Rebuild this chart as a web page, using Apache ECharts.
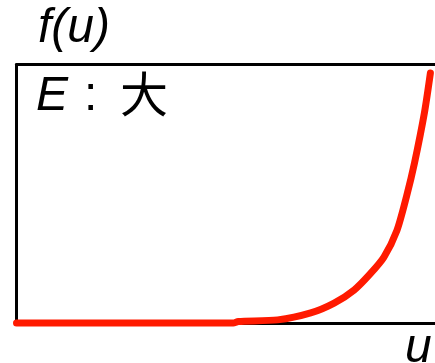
<!DOCTYPE html>
<html>
<head>
<meta charset="utf-8">
<script src="https://cdn.jsdelivr.net/npm/echarts@6/dist/echarts.min.js"></script>
<style>
  html, body { margin: 0; padding: 0; background: #fff; }
  #chart { width: 435px; height: 363px; }
</style>
</head>
<body>
<div id="chart"></div>
<script>
// Energy distribution curve f(u) for large E
const uValues = [0, 51.8, 53, 62.4, 70.3, 75.9, 80.7, 84.5, 87.8, 90.9, 93.2, 95.1, 97.5, 98.9];
const fValues = [0, 0, 0.6, 1.2, 3.9, 7.7, 12.8, 19.0, 25.5, 35.8, 49.0, 61.9, 81.6, 96.7];

const yLabel = 'f(u)';
const xLabel = 'u';
const eLabel = 'E';
const sepLabel = ':';
const sizeLabel = '大';

const points = uValues.map((u, i) => [u, fValues[i]]);

const chart = echarts.init(document.getElementById('chart'));
const latin = '"Liberation Sans", Arial, sans-serif';
const cjk = '"Noto Sans CJK SC", sans-serif';
const frame = { show: true, lineStyle: { color: '#000', width: 3 } };
const hidden = {
  axisTick: { show: false }, axisLabel: { show: false }, splitLine: { show: false }
};

chart.setOption({
  animation: false,
  grid: { left: 16.5, top: 64.5, width: 422, height: 258.5 },
  xAxis: [
    Object.assign({ type: 'value', min: 0, max: 100, position: 'bottom', axisLine: frame }, hidden),
    Object.assign({ type: 'value', min: 0, max: 100, position: 'top', axisLine: frame }, hidden)
  ],
  yAxis: Object.assign({ type: 'value', min: 0, max: 100, position: 'left', axisLine: frame }, hidden),
  series: [{
    type: 'line',
    data: points,
    smooth: 0.25,
    symbol: 'none',
    clip: false,
    z: 5,
    lineStyle: { color: '#ff1a00', width: 7, cap: 'round', join: 'round' }
  }],
  graphic: [
    { type: 'text', left: 38, top: 5,
      style: { text: yLabel, font: 'italic 48px ' + latin, fill: '#000' } },
    { type: 'text', left: 36, top: 73,
      style: { text: eLabel, font: 'italic 48px ' + latin, fill: '#000' } },
    { type: 'text', left: 84, top: 73,
      style: { text: sepLabel, font: '48px ' + latin, fill: '#000' } },
    { type: 'text', left: 120, top: 70,
      style: { text: sizeLabel, font: '48px ' + cjk, fill: '#000' } },
    { type: 'text', left: 405, top: 325,
      style: { text: xLabel, font: 'italic 48px ' + latin, fill: '#000' } }
  ]
});
</script>
</body>
</html>
